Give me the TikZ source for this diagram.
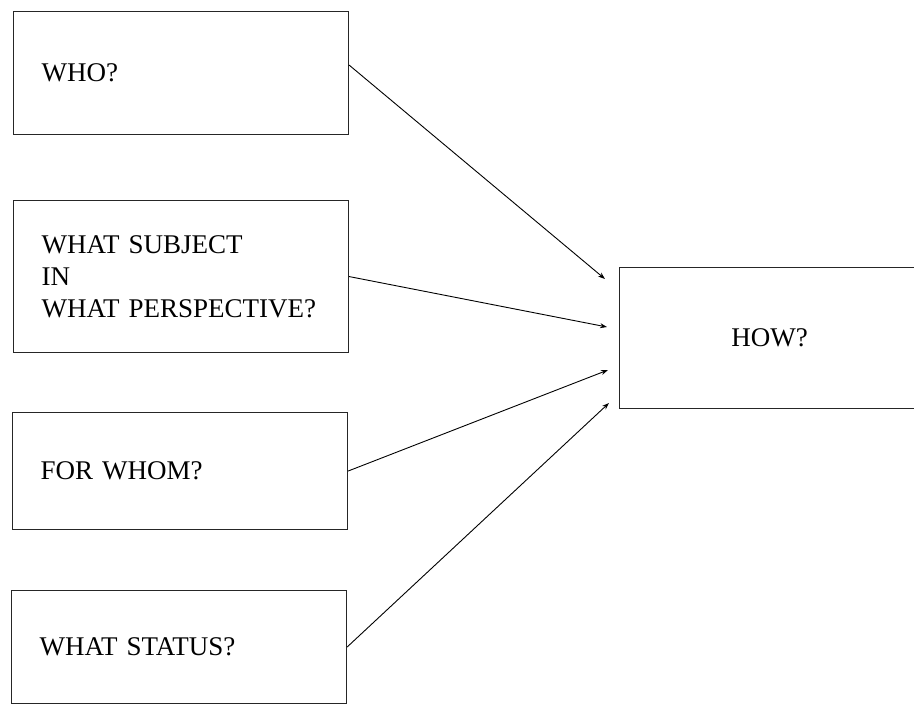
\documentclass[tikz,border=0pt]{standalone}
\usepackage{fontspec}
\setmainfont{Liberation Serif}
\usetikzlibrary{arrows.meta}

\begin{document}
\begin{tikzpicture}[x=1pt,y=-1pt,
	qbox/.style={draw=black!85,line width=1.1pt,anchor=north west,minimum width=335pt,
		text width=279pt,inner xsep=28pt,align=left,font=\fontsize{27}{32}\selectfont},
	link/.style={-{Stealth[length=7pt,width=5pt]},line width=0.9pt}]
	\useasboundingbox (0,0) rectangle (914,704);
	\node[qbox,minimum height=123pt] (who) at (13,11) {WHO?};
	\node[qbox,minimum height=152pt] (subject) at (13,200) {WHAT SUBJECT\\IN\\WHAT PERSPECTIVE?};
	\node[qbox,minimum height=117pt] (whom) at (12,412) {FOR WHOM?};
	\node[qbox,minimum height=113pt] (status) at (11,590) {WHAT STATUS?};
	\node[draw=black!85,line width=1.1pt,anchor=north west,minimum width=300pt,minimum height=141pt,
		font=\fontsize{27}{32}\selectfont] (how) at (619,267) {HOW?};
	\coordinate (in1) at (605,279);
	\coordinate (in2) at (607,327);
	\coordinate (in3) at (608,370);
	\coordinate (in4) at (609,403);
	\draw[link] ([yshift=8pt]who.east) -- (in1);
	\draw[link] (subject.east) -- (in2);
	\draw[link] (whom.east) -- (in3);
	\draw[link] (status.east) -- (in4);
\end{tikzpicture}
\end{document}
